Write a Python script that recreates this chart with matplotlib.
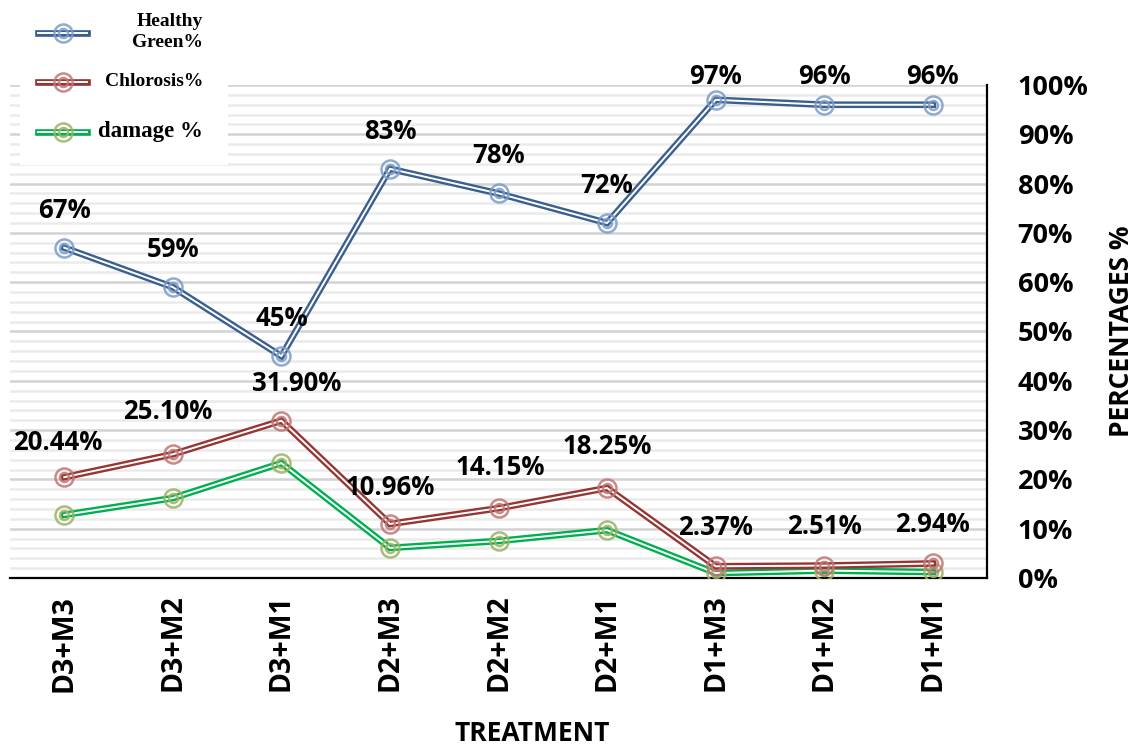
import matplotlib
matplotlib.use('Agg')
import matplotlib.pyplot as plt
from matplotlib.ticker import MultipleLocator, PercentFormatter

# data
treatments = ['D3+M3', 'D3+M2', 'D3+M1', 'D2+M3', 'D2+M2', 'D2+M1',
              'D1+M3', 'D1+M2', 'D1+M1']
healthy = [67, 59, 45, 83, 78, 72, 97, 96, 96]
chlorosis = [20.44, 25.10, 31.90, 10.96, 14.15, 18.25, 2.37, 2.51, 2.94]
damage = [12.8, 16.2, 23.3, 6.1, 7.5, 9.7, 1.0, 1.5, 1.2]
healthy_labels = ['67%', '59%', '45%', '83%', '78%', '72%', '97%', '96%', '96%']
chlorosis_labels = ['20.44%', '25.10%', '31.90%', '10.96%', '14.15%', '18.25%',
                    '2.37%', '2.51%', '2.94%']

plt.rcParams['font.family'] = ['Open Sans', 'DejaVu Sans']
plt.rcParams['font.weight'] = 'bold'

fig = plt.figure(figsize=(11.33, 7.51), dpi=100)
ax = fig.add_axes([0.0088, 0.2304, 0.8624, 0.6564])

x = list(range(len(treatments)))


def double_line(ax, xs, ys, col, ring, z, mx=None):
    # thick coloured line with a thin white core, plus a double ring marker
    ax.plot(xs, ys, color=col, lw=4.8, solid_joinstyle='miter', zorder=z)
    ax.plot(xs, ys, color='white', lw=1.4, solid_joinstyle='miter', zorder=z + 0.1)
    if mx is None:
        mx, my = xs, ys
    else:
        my = [ys[0]]
    for ms in (13, 6.5):
        ax.plot(mx, my, ls='none', marker='o', ms=ms, mfc='none', mec=ring,
                mew=1.8, alpha=0.85, zorder=z + 0.2)


blue, blue_ring = '#3a5f8f', '#7b9cc8'
red, red_ring = '#963634', '#c07674'
green, green_ring = '#00b050', '#9bb263'

double_line(ax, x, damage, green, green_ring, 3)
double_line(ax, x, chlorosis, red, red_ring, 4)
double_line(ax, x, healthy, blue, blue_ring, 5)

# data labels
h_off = [(0, 27), (0, 27), (0, 27), (0, 27), (0, 27), (0, 27), (0, 17), (0, 20), (0, 20)]
c_off = [(-5, 25), (-4, 31), (11, 27), (0, 26), (1, 29), (0, 30), (0, 28), (0, 28), (0, 28)]
for i in x:
    ax.annotate(healthy_labels[i], (x[i], healthy[i]), xytext=h_off[i],
                textcoords='offset points', ha='center', va='center',
                fontsize=18.5, fontweight='bold', zorder=10)
    ax.annotate(chlorosis_labels[i], (x[i], chlorosis[i]), xytext=c_off[i],
                textcoords='offset points', ha='center', va='center',
                fontsize=18.5, fontweight='bold', zorder=10)

ax.set_xlim(-0.5, len(treatments) - 0.5)
ax.set_ylim(0, 100)
ax.set_xticks(x)
ax.set_xticklabels(treatments, rotation=90, fontsize=20.5, fontweight='bold')
ax.yaxis.tick_right()
ax.yaxis.set_label_position('right')
ax.yaxis.set_major_locator(MultipleLocator(10))
ax.yaxis.set_minor_locator(MultipleLocator(2))
ax.yaxis.set_major_formatter(PercentFormatter(decimals=0))
ax.tick_params(axis='y', which='both', length=0, labelsize=19.5, pad=22)
ax.tick_params(axis='x', length=0, pad=12)
for lab in ax.get_yticklabels():
    lab.set_fontweight('bold')

ax.grid(axis='y', which='major', color='#d2d2d2', lw=1.8, zorder=0)
ax.grid(axis='y', which='minor', color='#ebebeb', lw=1.8, zorder=0)
ax.set_axisbelow(True)

for s in ['top', 'left']:
    ax.spines[s].set_visible(False)
ax.spines['right'].set_linewidth(1.6)
ax.spines['bottom'].set_linewidth(1.6)

ax.set_xlabel('TREATMENT', fontsize=19, fontweight='bold')
ax.xaxis.set_label_coords(0.534, -0.288)
ax.set_ylabel('PERCENTAGES %', fontsize=19, fontweight='bold', labelpad=14)

# legend drawn in its own white box at the top left
lax = fig.add_axes([20 / 1133, 1 - 165 / 751, 208 / 1133, 165 / 751])
lax.set_xlim(0, 208)
lax.set_ylim(165, 0)
lax.set_facecolor('white')
lax.set_zorder(20)
lax.set_xticks([])
lax.set_yticks([])
for s in lax.spines.values():
    s.set_visible(False)

legend_items = [('Healthy\nGreen%', blue, blue_ring, 33, 14),
                ('Chlorosis%', red, red_ring, 82, 14),
                ('damage %', green, green_ring, 132, 16.5)]
for text, col, ring, yy, fs in legend_items:
    double_line(lax, [18, 67], [yy, yy], col, ring, 3, mx=[42.5])
    lax.text(183, yy - 1, text, ha='right', va='center', fontsize=fs,
             fontweight='bold', family='Liberation Serif', linespacing=1.3)

fig.savefig('out.png', dpi=100)
